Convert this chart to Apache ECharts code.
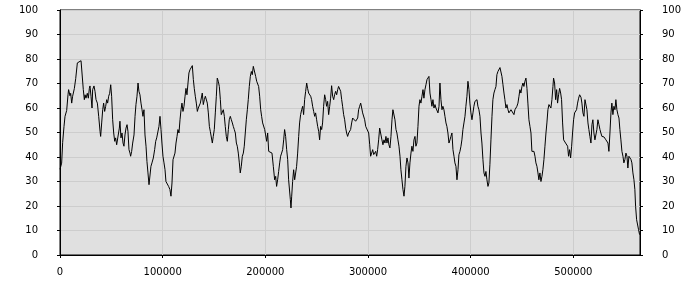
<!DOCTYPE html>
<html>
<head>
<meta charset="utf-8">
<script src="https://cdn.jsdelivr.net/npm/echarts@6/dist/echarts.min.js"></script>
<style>html,body{margin:0;padding:0;background:#fff}#c{width:700px;height:300px}</style>
</head>
<body>
<div id="c"></div>
<script>
// x positions of the samples
const xs = [
0,1600,2600,3900,4900,5800,6500,7800,8400,9700,
10400,11400,12300,14000,15300,16900,18800,20500,21700,22700,
23700,24400,25300,26600,27600,28600,29200,30200,31200,31800,
33100,34100,35100,36400,37700,39000,39600,40600,41600,42500,
43500,44500,45500,46400,47400,48400,49400,50300,51300,52300,
53300,54200,55200,56800,57800,58400,59400,60400,61400,62300,
63300,64300,65300,66200,67200,68200,68800,69800,70800,72100,
73100,74000,75000,76000,76900,77900,78900,79900,80800,81800,
82800,83800,84700,85700,86700,87700,88600,89600,90900,92200,
93200,94200,95500,96400,97400,
98400,99300,100300,101300,102300,103200,104500,105800,107100,108100,
109100,110100,111000,112000,113000,114000,114900,115900,116900,117900,
118800,119800,120800,121800,122700,123700,124700,125600,126600,127900,
128900,129900,130800,131800,132800,133800,134700,135700,136700,137700,
138600,139600,140600,141600,142500,143500,144500,145500,146400,147400,
148400,149300,150300,151300,152300,153200,154200,155200,156200,157100,
158100,159100,160100,161000,162000,163000,164000,164900,165900,166900,
167900,168800,169800,170800,171800,172700,173700,174700,175600,176600,
177600,178600,179500,180500,181500,182500,183400,184400,185400,186400,
187300,188300,189600,190600,191600,192500,193500,194500,195500,196400,
197400,198400,199400,200300,201300,202300,203300,
204500,206500,207800,209100,210100,211000,212000,213000,214000,214900,
215900,216900,217900,218800,219800,220800,221800,222700,223700,224400,
225000,225700,226600,227600,228600,229600,230500,231500,232500,233400,
234400,235400,236400,237300,238300,239300,240300,241200,242200,243200,
244200,245100,246100,247100,248100,249000,250000,251000,252000,252900,
253900,254900,255800,256800,257800,258800,259700,260700,261700,262700,
263600,264600,265600,266600,267500,268500,269500,270500,271400,272400,
273400,274400,275300,276300,277300,278300,279200,280200,281200,282200,
283100,284100,285100,286100,287000,288000,289000,290000,290900,291900,
292900,293900,294800,295800,296800,297800,298700,299700,300700,301700,
302600,303600,304600,305600,306500,307500,308500,309400,310400,311400,
312700,313600,314600,315600,316600,317500,318500,319500,320400,321400,
322400,323400,324300,325300,326300,327300,328200,329200,330200,331200,
332100,333100,334100,335100,336000,337000,338000,339000,339900,340900,
341900,342800,343800,344800,345800,346700,347700,348700,349700,350600,
351600,352600,353600,354500,355500,356500,357500,358400,359400,360400,
361400,362300,363300,364300,365300,366200,367200,368200,369200,370100,
371100,372100,373000,374000,375000,376000,376900,377900,378900,379900,
380800,381800,382800,383800,384700,385700,386700,387700,388600,389600,
390600,391500,392500,393500,394500,395400,396400,397400,398400,399300,
400300,401300,402300,403200,404200,405200,406200,407100,408100,409100,
410100,411000,412000,413000,414000,414900,415900,416900,417800,
418800,419800,420800,421700,422700,423700,424700,425600,426600,427600,
428600,429500,430500,431500,432500,433400,434400,435400,436400,437300,
438300,439300,440200,441200,442200,443200,444100,445100,446100,447100,
448000,449000,450000,451000,451900,452900,453900,454900,455800,456800,
457800,458800,459700,460700,461700,462700,463600,464600,465600,466500,
467500,468500,469500,470400,471400,472400,473400,474300,475300,476300,
477300,478200,479200,480200,480800,481800,482800,483800,484700,485700,
486700,487700,488600,489600,490600,491600,492500,493500,494500,495400,
496400,497400,498400,499300,500300,501300,502300,503200,504200,505200,
506200,
507500,508400,509400,510400,511400,512300,513300,514300,515200,516200,
517200,518200,519100,520100,521100,522100,523000,524000,525000,526000,
526900,527900,528900,529900,530800,531800,532800,533800,534700,535700,
536700,537600,538600,539600,540600,541500,542500,543500,544500,545400,
546400,547400,548400,549300,550300,551300,552300,553200,554200,555200,
556200,557100,558100,559100,560000,560700,561700,562700,563600,564600
];
// series values at those positions
const ys = [
35,37.5,46,52.5,56.6,56,59,65.4,67.5,65,
66,62,64.8,68,72,78.4,79,79.3,79,67.5,
63.4,65.4,64,66,64,68,69,64.8,60,67.5,
69,66.8,63.4,62,56.6,50.5,48.4,53.9,59.3,62,
58.6,60.7,63.4,62,64.8,66,69.5,64.8,55.2,49.8,
46.4,47.8,45,45,51.8,54.6,47.8,49.8,45.7,44.4,
49,51.8,53.2,50.5,43,41.6,40.3,42.3,45.7,49,
56.6,61.4,64.8,70.2,66.8,65.4,62,59.3,56.6,59.3,
49,44.4,38.2,33.5,28.7,29.4,36.2,37.6,39.6,43,
46.4,47.8,48.4,52.5,56.6,
51.2,45.7,40.3,37.6,34.8,30,29.4,28,26.7,24,
29.4,38.9,39.2,41.6,45.7,48.4,51.2,49.8,55.2,59.3,
62,58.6,60.7,64.8,68,65.4,70.2,74.3,75.6,75.6,
77.3,71.6,68,64.8,62,58.6,60,60.7,62,61.4,
66.1,61.4,63.4,64.8,64,62,58,52.5,50.5,49.8,
45.7,48.4,51.2,58,64.8,72.2,70.9,68.8,63.4,57.3,
58,59.3,56.6,52.5,48.4,46.4,51.2,55.2,56.6,55.2,
53.9,52.5,51.2,49.8,45.7,44.4,41.6,37.6,33.5,36.2,
40.3,41.6,44.4,49.8,55.2,59.3,63.4,68.8,72.9,74.9,
73.6,77,77.3,72.9,70.9,70.9,68.8,64.8,59.3,56.6,
53.9,53.2,51.2,49,46.4,49.8,42.3,
43,41.6,36.2,30.7,32.1,28,30.7,34.1,37.6,40.3,
41.6,43,47,51.2,48.4,43,38.9,30.7,30,22.6,
19.2,24,30,34.8,30.7,30,36.2,41.6,48.4,53.9,
57.3,59.3,60.7,57.3,63.4,66.8,70.2,68,66.1,65.4,
64.8,63.4,60.7,58.6,56.6,58,55.2,52.5,50.5,47,
52.5,51.2,53.9,60.7,65.4,63.4,60.7,62.7,57.3,60.7,
64,69.1,64.8,63.4,65.4,66.8,65.4,67.5,68.8,69.5,
66.8,63.4,60.7,57.3,55.2,51.8,49.8,48.4,49.8,50.5,
51.2,53.9,55.9,55.2,55.9,54.6,55.2,55.9,59.3,60.7,
62,60,58,57.3,55.2,52.5,53.2,52.5,49.8,45,
40.3,41.6,43,41,40.3,42.3,40.3,43,47,51.8,
51.2,47,45,47,45.7,48.4,45.7,47.8,45,43.7,
48.4,55.2,59.3,60,55.2,51.2,49.8,47,44.4,40.3,
34.8,30.7,26.7,24,28,36.2,39.6,37.6,31.4,37.6,
41.6,44.4,42.3,47,48.4,44.4,45.7,52.5,60.7,63.4,
62,64.8,67.5,64,67.5,69.5,71.6,72.2,72.9,66.1,
63.4,60.7,63.4,60,61.4,60,60.7,58,60.7,70.2,
63.4,59.3,60.7,59.3,56.6,53.9,52.5,49.8,45.7,47,
48.4,49.8,43,40.3,37.6,36.2,30.7,34.8,40.9,42.3,
44.4,47,51.2,53.9,56.6,60.7,64.8,70.9,67.5,62,
58,55.2,58,60.7,62.7,62,63.4,60.7,59.3,56.6,
49.8,45.7,38.9,33.5,32.1,34.1,30.7,28,29.4,
37,47,56.6,63.4,66.1,67.5,68.8,73.6,74.9,74.3,
76.5,77,72.9,69.5,66.1,63.4,60,61.4,59.3,58,
57.3,59.3,58.6,60,57.3,59.3,60,60.7,62,64.8,
67.5,66.1,68.8,70.2,68.8,70.9,72.2,68,62,55.2,
52.5,49.8,42.3,41.6,42.3,40.3,37.6,36.2,33.5,30.7,
33.5,30,32.1,34.8,38.9,44.4,49.8,53.9,59.3,61.4,
62,60,63.4,68.8,72.2,70.2,63.4,67.5,62,65.4,
68,66.1,63.4,53.9,47,47.8,45.7,46.4,44.4,40.3,
43,39.6,44.4,49.8,55.2,58,57.3,59.3,62,64,
65.4,
64.4,62,58,56.6,63.4,64,59.3,53.9,51.2,48.4,
45.7,53.2,55.2,49.8,47,46.4,51.2,55.2,53.2,51.2,
49.8,48.4,48.4,48.2,48.4,47,47.8,45.7,42.3,49.8,
58,62,57.3,60.7,59.3,63.4,59.3,57.3,55.9,51.2,
47,42.3,40.3,37.6,39,41.6,40.3,35.5,40.3,39.6,
39,37.6,33.5,30.7,26.7,19.9,14.4,13.7,10.3,8.3
];
// axis ranges / tick labels
const xMax = 565000;
const xTicks = [0, 100000, 200000, 300000, 400000, 500000];
const yTicks = [0, 10, 20, 30, 40, 50, 60, 70, 80, 90, 100];

const n = Math.min(xs.length, ys.length);
const data = [];
for (let i = 0; i < n; i++) data.push([xs[i], ys[i]]);

const font = {fontFamily: 'DejaVu Sans', fontSize: 10, color: '#000'};
const yAxisBase = (pos) => ({
  type: 'value', position: pos, min: yTicks[0], max: yTicks[yTicks.length - 1], interval: 10,
  axisLine: {show: true, lineStyle: {color: '#000', width: 1}},
  axisTick: {show: true, inside: false, length: 3, lineStyle: {color: '#000'}},
  axisLabel: Object.assign({margin: 22}, font),
  splitLine: {show: pos === 'left', lineStyle: {color: '#cdcdcd', width: 1}}
});

const chart = echarts.init(document.getElementById('c'), null, {renderer: 'canvas'});
chart.setOption({
  animation: false,
  backgroundColor: '#ffffff',
  grid: {left: 60, right: 60, top: 10, bottom: 45, show: true, backgroundColor: '#e0e0e0', borderColor: '#000', borderWidth: 1},
  xAxis: {
    type: 'value', min: 0, max: xMax, interval: 100000,
    axisLine: {show: true, onZero: false, lineStyle: {color: '#000', width: 1}},
    axisTick: {show: true, length: 3, lineStyle: {color: '#000'}},
    axisLabel: Object.assign({margin: 12, showMaxLabel: false,
      formatter: v => (xTicks.indexOf(v) >= 0 ? String(v) : '')}, font),
    splitLine: {show: true, lineStyle: {color: '#cdcdcd', width: 1}}
  },
  yAxis: [yAxisBase('left'), yAxisBase('right')],
  series: [{
    type: 'line', data: data, yAxisIndex: 0, showSymbol: false, symbol: 'none',
    lineStyle: {color: '#000', width: 1}, itemStyle: {color: '#000'}
  }]
});
</script>
</body>
</html>
